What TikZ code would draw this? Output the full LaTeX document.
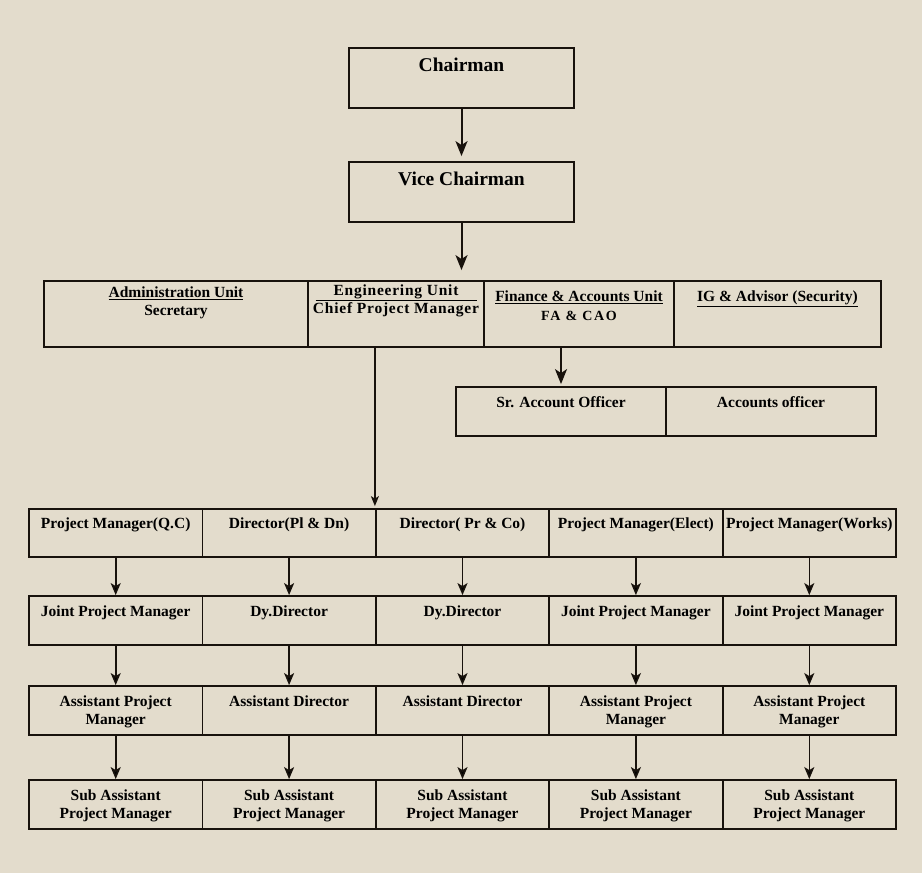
\documentclass[tikz,border=0pt]{standalone}
\usepackage{fontspec}
\setmainfont{Liberation Serif}
\usetikzlibrary{arrows.meta}

\definecolor{paper}{RGB}{227,220,204}
\definecolor{ink}{RGB}{24,18,12}

% width, height, top gap, text
\newcommand{\cellbox}[4]{\parbox[t][#2pt][t]{#1pt}{\centering\vspace*{#3pt}#4}}

\begin{document}
\begin{tikzpicture}[x=1pt,y=-1pt,
  cell/.style={draw=ink,line width=1.8pt,inner sep=0pt,font=\fontsize{15.5}{18}\selectfont\bfseries},
  big/.style={font=\fontsize{19.5}{22}\selectfont\bfseries},
  arr/.style={draw=ink,line width=1.6pt,-{Stealth[length=12pt,width=10pt,inset=3pt]}},
  bigarr/.style={arr,line width=2pt,-{Stealth[length=15pt,width=12pt,inset=4pt]}}]

  \fill[paper] (0,0) rectangle (922,873);
  \useasboundingbox (0,0) rectangle (922,873);

  % top of the chart
  \node[cell,big] (chair) at (461.5,78)  {\cellbox{225}{60}{10}{Chairman}};
  \node[cell,big] (vice)  at (461.5,192) {\cellbox{225}{60}{10}{Vice Chairman}};

  % units
  \node[cell] (admin) at (176,314)   {\cellbox{264}{66}{6}{\underline{Administration Unit}\\Secretary}};
  \node[cell] (eng)   at (396,314)   {\cellbox{176}{66}{4}{\addfontfeature{LetterSpace=5}\underline{\makebox[161pt]{Engineering Unit}}\\Chief Project Manager}};
  \node[cell] (fin)   at (579,314)   {\cellbox{190}{66}{10}{\underline{Finance \& Accounts Unit}\\[1pt]{\fontsize{14}{16}\selectfont\addfontfeature{LetterSpace=12}FA \& CAO}}};
  \node[cell] (ig)    at (777.5,314) {\cellbox{207}{66}{10}{\underline{IG \& Advisor (Security)}}};

  \node[cell] (srao) at (561,411.5) {\cellbox{210}{49}{10}{Sr. Account Officer}};
  \node[cell] (ao)   at (771,411.5) {\cellbox{210}{49}{10}{Accounts officer}};

  % row 1
  \node[cell] (r1c1) at (115.7,533) {\cellbox{173.4}{48}{9}{Project Manager(Q.C)}};
  \node[cell] (r1c2) at (289.1,533) {\cellbox{173.4}{48}{9}{Director(Pl \& Dn)}};
  \node[cell] (r1c3) at (462.5,533) {\cellbox{173.4}{48}{9}{Director( Pr \& Co)}};
  \node[cell] (r1c4) at (635.9,533) {\cellbox{173.4}{48}{9}{Project Manager(Elect)}};
  \node[cell] (r1c5) at (809.3,533) {\cellbox{173.4}{48}{9}{Project Manager(Works)}};

  % row 2
  \node[cell] (r2c1) at (115.7,620.5) {\cellbox{173.4}{49}{10}{Joint Project Manager}};
  \node[cell] (r2c2) at (289.1,620.5) {\cellbox{173.4}{49}{10}{Dy.Director}};
  \node[cell] (r2c3) at (462.5,620.5) {\cellbox{173.4}{49}{10}{Dy.Director}};
  \node[cell] (r2c4) at (635.9,620.5) {\cellbox{173.4}{49}{10}{Joint Project Manager}};
  \node[cell] (r2c5) at (809.3,620.5) {\cellbox{173.4}{49}{10}{Joint Project Manager}};

  % row 3
  \node[cell] (r3c1) at (115.7,710.5) {\cellbox{173.4}{49}{10}{Assistant Project\\Manager}};
  \node[cell] (r3c2) at (289.1,710.5) {\cellbox{173.4}{49}{10}{Assistant Director}};
  \node[cell] (r3c3) at (462.5,710.5) {\cellbox{173.4}{49}{10}{Assistant Director}};
  \node[cell] (r3c4) at (635.9,710.5) {\cellbox{173.4}{49}{10}{Assistant Project\\Manager}};
  \node[cell] (r3c5) at (809.3,710.5) {\cellbox{173.4}{49}{10}{Assistant Project\\Manager}};

  % row 4
  \node[cell] (r4c1) at (115.7,804.5) {\cellbox{173.4}{49}{10}{Sub Assistant\\Project Manager}};
  \node[cell] (r4c2) at (289.1,804.5) {\cellbox{173.4}{49}{10}{Sub Assistant\\Project Manager}};
  \node[cell] (r4c3) at (462.5,804.5) {\cellbox{173.4}{49}{10}{Sub Assistant\\Project Manager}};
  \node[cell] (r4c4) at (635.9,804.5) {\cellbox{173.4}{49}{10}{Sub Assistant\\Project Manager}};
  \node[cell] (r4c5) at (809.3,804.5) {\cellbox{173.4}{49}{10}{Sub Assistant\\Project Manager}};

  \path[arr]
    (r1c1) edge (r2c1)  (r1c2) edge (r2c2)  (r1c3) edge (r2c3)  (r1c4) edge (r2c4)  (r1c5) edge (r2c5)
    (r2c1) edge (r3c1)  (r2c2) edge (r3c2)  (r2c3) edge (r3c3)  (r2c4) edge (r3c4)  (r2c5) edge (r3c5)
    (r3c1) edge (r4c1)  (r3c2) edge (r4c2)  (r3c3) edge (r4c3)  (r3c4) edge (r4c4)  (r3c5) edge (r4c5);

  \draw[bigarr,shorten >=5pt] (chair) -- (vice);
  \draw[bigarr,shorten >=10pt] (vice) -- (vice.south |- eng.north);
  \draw[bigarr,shorten >=2pt] (srao.north |- fin.south) -- (srao.north);
  \draw[arr,line width=1.3pt,-{Stealth[length=10pt,width=8pt,inset=2.5pt]},shorten >=2pt]
    (eng.south -| r1c3.north west) -- (r1c3.north west);

\end{tikzpicture}
\end{document}
